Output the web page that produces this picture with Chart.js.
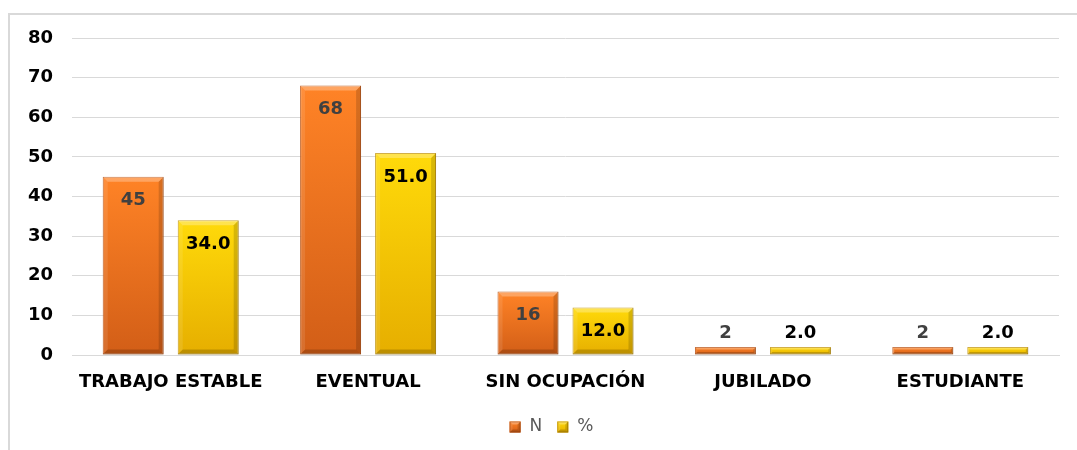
<!DOCTYPE html>
<html><head><meta charset="utf-8">
<script src="https://cdn.jsdelivr.net/npm/chart.js@4"></script>
<style>html,body{margin:0;padding:0;background:#fff}#wrap{width:1077px;height:450px;position:relative}</style>
</head><body><div id="wrap"><canvas id="c" width="1077" height="450"></canvas></div>
<script>
const categories = ["TRABAJO ESTABLE", "EVENTUAL", "SIN OCUPACIÓN", "JUBILADO", "ESTUDIANTE"];
const seriesN = [45, 68, 16, 2, 2];
const seriesPct = [34.0, 51.0, 12.0, 2.0, 2.0];
const seriesNames = ["N", "%"];
const yTicks = [0, 10, 20, 30, 40, 50, 60, 70, 80];

const FONT = "'DejaVu Sans', sans-serif";
const palettes = [
  {top: '#FF8326', bottom: '#D25E17', border: '#B85010', label: '#404040', fmt: v => String(v)},
  {top: '#FFDA0A', bottom: '#E6AE00', border: '#BF9000', label: '#000000', fmt: v => v.toFixed(1)}
];

function barFill(ctx, p) {
  const chart = ctx.chart;
  if (!chart.chartArea || !ctx.parsed) return p.top;
  const y = chart.scales.y;
  const t = y.getPixelForValue(ctx.parsed.y), b = y.getPixelForValue(0);
  const g = chart.ctx.createLinearGradient(0, t, 0, Math.max(b, t + 1));
  g.addColorStop(0, p.top);
  g.addColorStop(1, p.bottom);
  return g;
}

const framePlugin = {
  id: 'frame',
  beforeDraw(chart) {
    const c = chart.ctx;
    c.save();
    c.strokeStyle = '#d9d9d9';
    c.lineWidth = 2;
    c.beginPath();
    c.moveTo(9, 450); c.lineTo(9, 14); c.lineTo(1077, 14);
    c.stroke();
    c.restore();
  }
};

function bevelBox(c, l, t, r, b, d) {
  c.fillStyle = 'rgba(255,255,255,0.28)';
  c.beginPath(); c.moveTo(l, t); c.lineTo(r, t); c.lineTo(r - d, t + d); c.lineTo(l + d, t + d); c.closePath(); c.fill();
  c.fillStyle = 'rgba(255,255,255,0.10)';
  c.beginPath(); c.moveTo(l, t); c.lineTo(l + d, t + d); c.lineTo(l + d, b - d); c.lineTo(l, b); c.closePath(); c.fill();
  c.fillStyle = 'rgba(0,0,0,0.15)';
  c.beginPath(); c.moveTo(r, t); c.lineTo(r - d, t + d); c.lineTo(r - d, b - d); c.lineTo(r, b); c.closePath(); c.fill();
  c.fillStyle = 'rgba(0,0,0,0.18)';
  c.beginPath(); c.moveTo(l, b); c.lineTo(l + d, b - d); c.lineTo(r - d, b - d); c.lineTo(r, b); c.closePath(); c.fill();
}

const bevelPlugin = {
  id: 'bevel',
  afterDatasetsDraw(chart) {
    const c = chart.ctx;
    chart.data.datasets.forEach((ds, di) => {
      const meta = chart.getDatasetMeta(di);
      meta.data.forEach((bar) => {
        const {x, y, base, width} = bar.getProps(['x', 'y', 'base', 'width'], true);
        const l = x - width / 2, r = x + width / 2, h = base - y;
        c.save();
        bevelBox(c, l, y, r, base, Math.min(5, h / 3));
        c.restore();
      });
    });
  }
};

const labelPlugin = {
  id: 'vals',
  afterDatasetsDraw(chart) {
    const c = chart.ctx;
    c.save();
    c.font = "bold 18px " + FONT;
    c.textAlign = 'center';
    c.textBaseline = 'middle';
    chart.data.datasets.forEach((ds, di) => {
      const meta = chart.getDatasetMeta(di);
      const p = palettes[di];
      meta.data.forEach((bar, i) => {
        const {x, y, base} = bar.getProps(['x', 'y', 'base'], true);
        const h = base - y;
        c.fillStyle = p.label;
        const ty = h > 40 ? y + 24 : y - 14;
        c.fillText(p.fmt(ds.data[i]), x, ty);
      });
    });
    c.restore();
  }
};

const legendPlugin = {
  id: 'customLegend',
  afterDraw(chart) {
    const c = chart.ctx;
    c.save();
    c.font = "17px " + FONT;
    c.textBaseline = 'middle';
    const box = 11, gapText = 9, gapItem = 15;
    const names = chart.data.datasets.map(d => d.label);
    const widths = names.map(n => c.measureText(n).width);
    let total = 0;
    names.forEach((n, i) => { total += box + gapText + widths[i] + (i < names.length - 1 ? gapItem : 0); });
    const cx = (chart.chartArea.left + chart.chartArea.right) / 2 - 14;
    const cy = 427;
    let x = cx - total / 2;
    names.forEach((n, i) => {
      const p = palettes[i];
      const g = c.createLinearGradient(0, cy - box / 2, 0, cy + box / 2);
      g.addColorStop(0, p.top); g.addColorStop(1, p.bottom);
      c.fillStyle = g;
      c.fillRect(x, cy - box / 2, box, box);
      c.strokeStyle = p.border; c.lineWidth = 1;
      c.strokeRect(x + 0.5, cy - box / 2 + 0.5, box - 1, box - 1);
      bevelBox(c, x, cy - box / 2, x + box, cy + box / 2, 3);
      x += box + gapText;
      c.fillStyle = '#595959';
      c.fillText(n, x, cy);
      x += widths[i] + gapItem;
    });
    c.restore();
  }
};

new Chart(document.getElementById('c'), {
  type: 'bar',
  data: {
    labels: categories,
    datasets: [
      {label: seriesNames[0], data: seriesN, backgroundColor: ctx => barFill(ctx, palettes[0]), borderColor: palettes[0].border, borderWidth: 1, borderSkipped: false},
      {label: seriesNames[1], data: seriesPct, backgroundColor: ctx => barFill(ctx, palettes[1]), borderColor: palettes[1].border, borderWidth: 1, borderSkipped: false}
    ]
  },
  options: {
    responsive: false,
    animation: false,
    datasets: {bar: {categoryPercentage: 0.76, barPercentage: 0.813}},
    layout: {padding: {top: 38, right: 18, bottom: 46, left: 0}},
    scales: {
      x: {
        grid: {display: false, drawTicks: false},
        border: {display: true, color: '#d9d9d9', width: 1},
        ticks: {color: '#000', font: {family: FONT, size: 18, weight: 'bold'}, padding: 17, maxRotation: 0},
        afterFit(s) { s.height = 49; }
      },
      y: {
        min: 0, max: 80,
        afterBuildTicks(s) { s.ticks = yTicks.map(v => ({value: v})); },
        grid: {color: '#d9d9d9', drawTicks: false},
        border: {display: false},
        ticks: {color: '#000', font: {family: FONT, size: 18, weight: 'bold'}, padding: 19},
        afterFit(s) { s.width = 72; }
      }
    },
    plugins: {
      legend: {display: false},
      tooltip: {enabled: false}
    }
  },
  plugins: [framePlugin, bevelPlugin, labelPlugin, legendPlugin]
});
</script></body></html>
